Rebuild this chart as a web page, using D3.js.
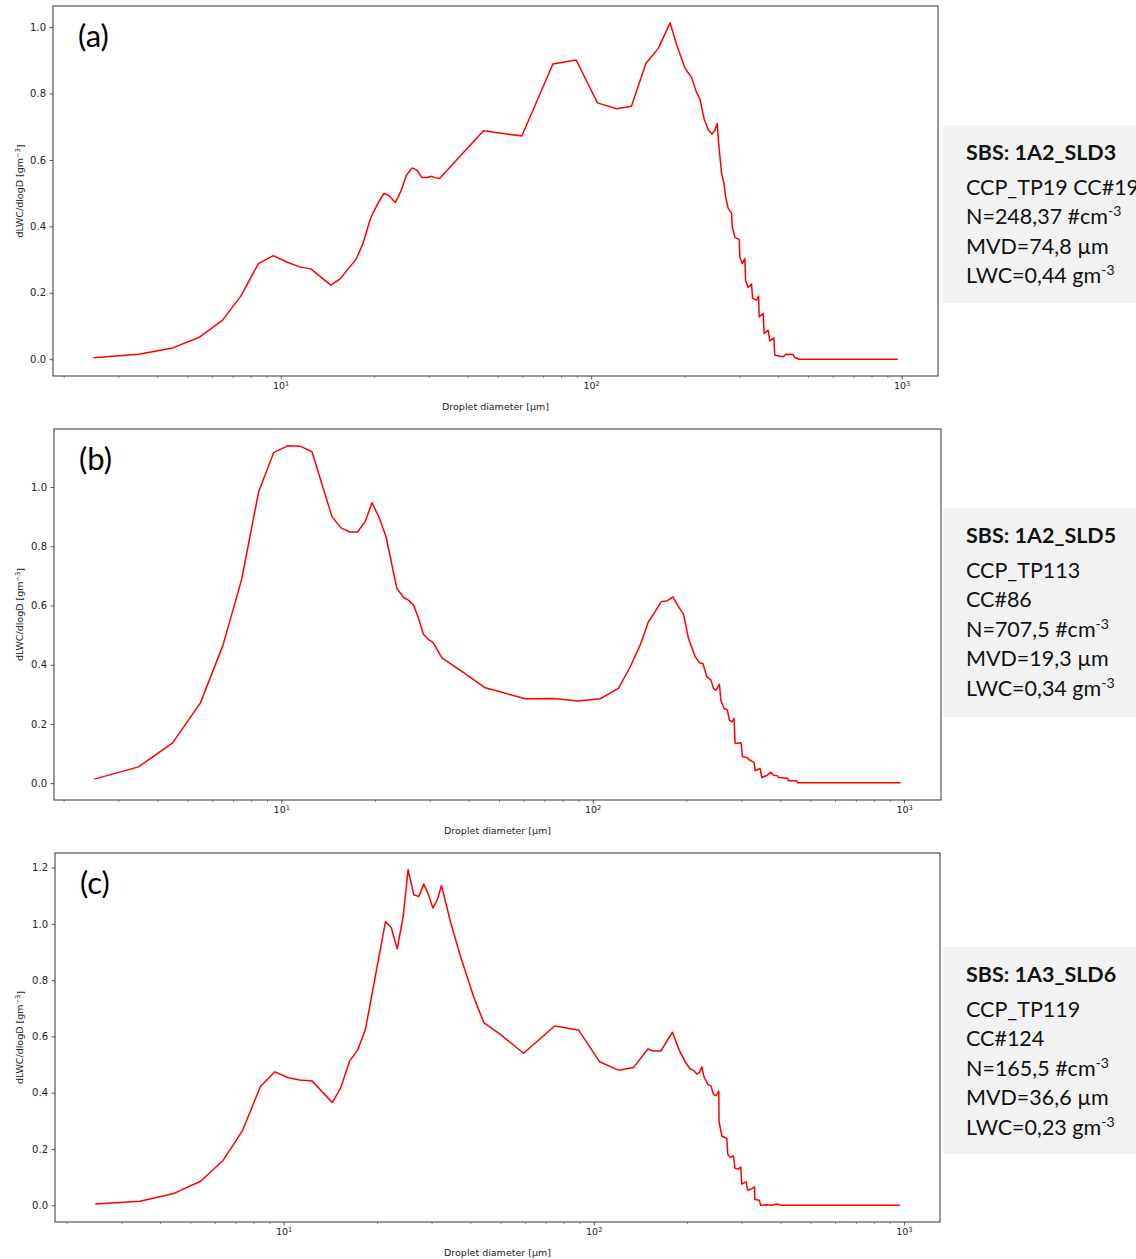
<!DOCTYPE html>
<html>
<head>
<meta charset="utf-8">
<script src="https://cdn.jsdelivr.net/npm/d3@7"></script>
<style>
  body { margin: 0; background: #fff; }
  svg { display: block; }
</style>
</head>
<body>
<svg id="chart" width="1136" height="1259"></svg>
<script>
// droplet diameter [um] and dLWC/dlogD [g m^-3]
var aDiam = [2.49, 3.49, 4.49, 5.49, 6.49, 7.44, 8.48, 9.47, 10.5, 11.5, 12.5, 14.5, 15.5, 16.6, 17.5, 18.4, 19.5, 20.5, 21.5, 22.3, 23.4, 24.4, 25.4, 26.5, 27.5, 28.5, 29.6, 30.6, 31.5, 32.5, 45.0, 59.8, 75.3, 89.5, 104.8, 121, 134.8, 150.2, 164.6, 179.5, 189.5, 200.6, 210.8, 217.6, 224.2, 230.9, 238.4, 244.9, 249.9, 254.7, 257.4, 263.2, 267.7, 271.1, 276.4, 283.4, 284.8, 290.4, 299.9, 301.3, 306.6, 312.7, 314.3, 320.4, 328.6, 331.1, 341.1, 346.2, 347.8, 358.1, 360.8, 371.6, 376.3, 387.6, 390.5, 415.4, 423.6, 447.3, 452.9, 467.7, 972];
var aLwc = [0.004, 0.015, 0.034, 0.067, 0.117, 0.19, 0.288, 0.312, 0.292, 0.278, 0.272, 0.223, 0.241, 0.275, 0.301, 0.348, 0.426, 0.467, 0.499, 0.493, 0.472, 0.506, 0.554, 0.576, 0.569, 0.547, 0.547, 0.551, 0.546, 0.544, 0.688, 0.672, 0.889, 0.901, 0.772, 0.754, 0.762, 0.891, 0.936, 1.013, 0.941, 0.876, 0.848, 0.808, 0.782, 0.725, 0.690, 0.678, 0.688, 0.710, 0.650, 0.559, 0.529, 0.489, 0.454, 0.439, 0.398, 0.367, 0.361, 0.308, 0.288, 0.303, 0.238, 0.216, 0.226, 0.183, 0.178, 0.19, 0.127, 0.138, 0.077, 0.087, 0.055, 0.064, 0.012, 0.007, 0.015, 0.014, 0.005, 0.0, 0.0];

var bDiam = [2.51, 3.48, 4.48, 5.5, 6.5, 7.46, 8.46, 9.45, 10.48, 11.5, 12.55, 14.55, 15.55, 16.57, 17.58, 18.6, 19.55, 20.6, 21.7, 23.5, 24.7, 25.6, 26.6, 27.6, 28.6, 29.7, 30.7, 32.8, 38.5, 45.2, 60.7, 74.8, 90, 105.7, 121, 132, 142, 151, 158.7, 166, 173.9, 180.9, 188.5, 195.6, 203, 213.3, 220.2, 225.8, 232.6, 240, 244.2, 249, 255.3, 257.9, 264.2, 270.7, 274.8, 279.7, 284.5, 286.6, 299.7, 302.6, 312.4, 318.5, 329.8, 332.3, 344.8, 349.2, 362.3, 374.1, 380.5, 391.9, 394.8, 407.8, 423.2, 425.1, 452.1, 455.4, 975];
var bLwc = [0.0135, 0.055, 0.136, 0.271, 0.466, 0.688, 0.984, 1.116, 1.139, 1.138, 1.119, 0.90, 0.862, 0.848, 0.848, 0.883, 0.947, 0.898, 0.832, 0.658, 0.627, 0.618, 0.601, 0.556, 0.503, 0.485, 0.475, 0.423, 0.373, 0.322, 0.285, 0.286, 0.277, 0.285, 0.32, 0.393, 0.466, 0.545, 0.579, 0.613, 0.616, 0.629, 0.596, 0.571, 0.489, 0.427, 0.406, 0.404, 0.359, 0.348, 0.32, 0.314, 0.334, 0.28, 0.252, 0.247, 0.213, 0.207, 0.219, 0.134, 0.136, 0.089, 0.087, 0.078, 0.07, 0.042, 0.05, 0.019, 0.026, 0.037, 0.027, 0.025, 0.019, 0.018, 0.016, 0.008, 0.008, 0.001, 0.001];

var cDiam = [2.47, 3.44, 4.43, 5.4, 6.39, 7.36, 8.43, 9.38, 10.35, 11.28, 12.37, 14.35, 15.26, 16.35, 17.35, 18.37, 21.31, 22.23, 23.24, 24.3, 25.2, 26.3, 27.3, 28.3, 29.2, 30.3, 31.3, 32.3, 34.5, 37.2, 41, 44.2, 50, 59.4, 74.8, 89.3, 104.4, 120.2, 134.4, 149.4, 155.8, 164.6, 179.4, 188.5, 197.1, 204.6, 209.6, 215, 219.2, 223.1, 227, 234.3, 238.5, 243.2, 248, 253, 253.6, 258.8, 268.5, 270.5, 275.2, 282, 285.6, 292.6, 297.9, 300.1, 309.8, 313.7, 323.2, 329.5, 331.1, 341.8, 345.4, 361.2, 374.9, 389, 403.6, 970];
var cLwc = [0.004, 0.014, 0.042, 0.085, 0.16, 0.264, 0.423, 0.474, 0.453, 0.445, 0.441, 0.365, 0.415, 0.514, 0.552, 0.626, 1.008, 0.987, 0.911, 1.026, 1.192, 1.103, 1.097, 1.141, 1.109, 1.056, 1.085, 1.136, 1.008, 0.884, 0.741, 0.649, 0.607, 0.54, 0.637, 0.623, 0.51, 0.48, 0.489, 0.555, 0.548, 0.548, 0.615, 0.552, 0.51, 0.484, 0.48, 0.466, 0.472, 0.492, 0.454, 0.427, 0.425, 0.394, 0.389, 0.406, 0.296, 0.246, 0.237, 0.181, 0.17, 0.175, 0.131, 0.128, 0.136, 0.075, 0.083, 0.053, 0.059, 0.065, 0.02, 0.018, 0.0, 0.002, 0.0, 0.004, 0.0, 0.0];

var yTicksAB = [0, 0.2, 0.4, 0.6, 0.8, 1.0];
var yTicksC = [0, 0.2, 0.4, 0.6, 0.8, 1.0, 1.2];
var xMajor = [10, 100, 1000];

var panelLabels = ["(a)", "(b)", "(c)"];
var aInfo = ["SBS: 1A2_SLD3", "CCP_TP19 CC#19", "N=248,37 #cm^-3", "MVD=74,8 µm", "LWC=0,44 gm^-3"];
var bInfo = ["SBS: 1A2_SLD5", "CCP_TP113", "CC#86", "N=707,5 #cm^-3", "MVD=19,3 µm", "LWC=0,34 gm^-3"];
var cInfo = ["SBS: 1A3_SLD6", "CCP_TP119", "CC#124", "N=165,5 #cm^-3", "MVD=36,6 µm", "LWC=0,23 gm^-3"];

var svg = d3.select("#chart");
var tickFont = "DejaVu Sans";
var boxFont = "Lato";

function zip(xs, ys) {
  return xs.map(function(x, i) { return {d: x, v: ys[i]}; });
}

// matplotlib style 5% margins
function padLog(ext) {
  var lo = Math.log10(ext[0]), hi = Math.log10(ext[1]), m = (hi - lo) * 0.05;
  return [Math.pow(10, lo - m), Math.pow(10, hi + m)];
}
function padLin(ext) {
  var m = (ext[1] - ext[0]) * 0.05;
  return [ext[0] - m, ext[1] + m];
}

function drawPanel(p) {
  var pts = zip(p.diam, p.lwc);
  var x = d3.scaleLog()
            .domain(padLog(d3.extent(p.diam)))
            .range([p.left, p.right]);
  var y = d3.scaleLinear()
            .domain(padLin([0, d3.max(p.lwc)]))
            .range([p.bottom, p.top]);

  var minor = [];
  [1, 10, 100, 1000].forEach(function(dec) {
    for (var k = 2; k <= 9; k++) {
      var v = k * dec;
      if (v > x.domain()[0] && v < x.domain()[1]) minor.push(v);
    }
  });

  var g = svg.append("g");

  // minor x ticks
  g.append("g")
   .attr("transform", "translate(0," + p.bottom + ")")
   .call(d3.axisBottom(x).tickValues(minor).tickSize(2).tickFormat(""))
   .call(function(s) { s.select(".domain").remove(); s.selectAll("line").attr("stroke", "#444").attr("stroke-width", 0.6); });

  // major x ticks
  var xa = g.append("g")
   .attr("transform", "translate(0," + p.bottom + ")")
   .call(d3.axisBottom(x).tickValues(xMajor).tickSize(3.5).tickPadding(3).tickFormat(""));
  xa.select(".domain").remove();
  xa.selectAll("line").attr("stroke", "#333").attr("stroke-width", 0.8);
  xa.selectAll(".tick text").each(function(d) {
    var t = d3.select(this).attr("fill", "#222").attr("font-family", tickFont).attr("font-size", 9.5);
    t.text("10");
    t.append("tspan").attr("dy", "-0.45em").attr("font-size", "70%").text(Math.round(Math.log10(d)));
  });

  var ya = g.append("g")
   .attr("transform", "translate(" + p.left + ",0)")
   .call(d3.axisLeft(y).tickValues(p.yTicks).tickSize(3.5).tickPadding(3.5).tickFormat(d3.format(".1f")));
  ya.select(".domain").remove();
  ya.selectAll("line").attr("stroke", "#333").attr("stroke-width", 0.8);
  ya.selectAll("text").attr("fill", "#222").attr("font-family", tickFont).attr("font-size", 10);

  // curve
  g.append("path")
   .datum(pts)
   .attr("fill", "none")
   .attr("stroke", "#ff0000")
   .attr("stroke-width", 1.5)
   .attr("stroke-linejoin", "round")
   .attr("d", d3.line().x(function(d) { return x(d.d); }).y(function(d) { return y(d.v); }));

  // frame
  g.append("rect")
   .attr("x", p.left).attr("y", p.top)
   .attr("width", p.right - p.left).attr("height", p.bottom - p.top)
   .attr("fill", "none").attr("stroke", "#333").attr("stroke-width", 1);

  // axis labels
  g.append("text")
   .attr("x", (p.left + p.right) / 2).attr("y", p.bottom + 34)
   .attr("text-anchor", "middle")
   .attr("font-family", tickFont).attr("font-size", 9.5).attr("fill", "#222")
   .text("Droplet diameter [µm]");

  var yl = g.append("text")
   .attr("transform", "translate(23," + ((p.top + p.bottom) / 2) + ") rotate(-90)")
   .attr("text-anchor", "middle")
   .attr("font-family", tickFont).attr("font-size", 9.5).attr("fill", "#222");
  yl.append("tspan").text("dLWC/dlogD [gm");
  yl.append("tspan").attr("dy", "-0.45em").attr("font-size", "70%").text("\u22123");
  yl.append("tspan").attr("dy", "0.45em").text("]");

  // panel letter
  g.append("text")
   .attr("x", p.left + 25).attr("y", p.top + 41)
   .attr("font-family", boxFont).attr("font-size", 31).attr("fill", "#000")
   .text(p.label);

  // info box
  g.append("rect")
   .attr("x", 943).attr("y", p.boxY)
   .attr("width", 200).attr("height", p.boxH)
   .attr("fill", "#f2f2f2");

  p.info.forEach(function(line, i) {
    var by = p.boxY + 35 + (i === 0 ? 0 : 35 + (i - 1) * 29.4);
    var t = g.append("text")
             .attr("x", 966).attr("y", by)
             .attr("font-family", boxFont).attr("font-size", 21.5)
             .attr("font-weight", i === 0 ? "bold" : "normal")
             .attr("fill", "#111");
    var parts = line.split("^");
    t.append("tspan").text(parts[0]);
    if (parts.length > 1) {
      t.append("tspan").attr("dy", -8).attr("font-size", 14).text(parts[1]);
    }
  });
}

drawPanel({diam: aDiam, lwc: aLwc, yTicks: yTicksAB, label: panelLabels[0], info: aInfo,
           left: 53, right: 938, top: 6, bottom: 376, boxY: 125, boxH: 178});
drawPanel({diam: bDiam, lwc: bLwc, yTicks: yTicksAB, label: panelLabels[1], info: bInfo,
           left: 54, right: 941, top: 429, bottom: 800, boxY: 508, boxH: 209});
drawPanel({diam: cDiam, lwc: cLwc, yTicks: yTicksC, label: panelLabels[2], info: cInfo,
           left: 55, right: 940, top: 853, bottom: 1222, boxY: 947, boxH: 207});
</script>
</body>
</html>
